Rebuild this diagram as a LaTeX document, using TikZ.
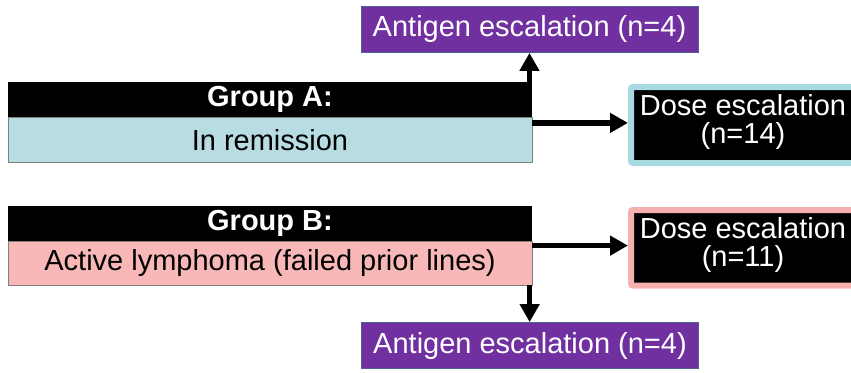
\documentclass[tikz,border=0pt]{standalone}
\usepackage{fontspec}
\setmainfont{Liberation Sans}
\usetikzlibrary{arrows.meta}
\definecolor{purp}{HTML}{7030A0}
\definecolor{purpedge}{HTML}{4F5F8F}
\definecolor{cyanbody}{HTML}{B7DDE2}
\definecolor{cyanedge}{HTML}{A9D9E0}
\definecolor{pinkbody}{HTML}{F9B8B8}
\definecolor{pinkedge}{HTML}{F5B0B0}
\definecolor{grayedge}{HTML}{7F7F7F}
\newcommand{\dosetext}[1]{\raisebox{0.5pt}[0pt][0pt]{\parbox{220pt}{\centering\fontsize{29}{28}\selectfont Dose escalation\\#1}}}
\tikzset{
  txt/.style={font=\fontsize{29}{30}\selectfont, inner sep=0pt, align=center},
  headbox/.style={txt, fill=black, text=white, font=\fontsize{29}{30}\selectfont\bfseries,
    minimum width=524pt, minimum height=35pt},
  bodybox/.style={txt, draw=grayedge, line width=0.8pt, text=black,
    minimum width=524pt, minimum height=45pt},
  antbox/.style={txt, fill=purp, draw=purpedge, line width=0.8pt, text=white,
    minimum width=337pt, minimum height=46pt},
  dosebox/.style={inner sep=0pt, fill=black, line width=6pt, rounded corners=2pt, text=white,
    minimum width=224pt, minimum height=76pt},
  arr/.style={line width=5.5pt, -{Triangle[length=18pt,width=19pt]}}
}
\begin{document}
\begin{tikzpicture}[x=1pt,y=-1pt]
\useasboundingbox (0,0) rectangle (851,372);
% Group A
\node[headbox] (gAh) at (270,99.5) {Group A:};
\node[bodybox, fill=cyanbody] (gAb) at (270,139.8) {In remission};
% Group B
\node[headbox] (gBh) at (270,223.5) {Group B:};
\node[bodybox, fill=pinkbody, minimum height=44pt] (gBb) at (270,263) {Active lymphoma (failed prior lines)};
% Antigen escalation boxes
\node[antbox] (antA) at (529.5,29.5) {Antigen escalation (n=4)};
\node[antbox] (antB) at (530,345.5) {Antigen escalation (n=4)};
% Dose escalation boxes
\node[dosebox, draw=cyanedge] (doseA) at (743,125) {\dosetext{(n=14)}};
\node[dosebox, draw=pinkedge, minimum height=75.5pt] (doseB) at (743,247.8) {\dosetext{(n=11)}};
% Connectors
\coordinate (aUp) at ([xshift=-2.75pt]gAh.north east);
\draw[arr] (aUp) -- (aUp |- antA.south);
\coordinate (aRt) at ([yshift=-6pt]gAb.north east);
\draw[arr] (aRt) -- (aRt -| doseA.west);
\coordinate (bRt) at ([yshift=-5pt]gBb.north east);
\draw[arr] (bRt) -- (bRt -| doseB.west);
\coordinate (bDn) at ([xshift=-2.75pt]gBb.south east);
\draw[arr] (bDn) -- (bDn |- antB.north);
\end{tikzpicture}
\end{document}
